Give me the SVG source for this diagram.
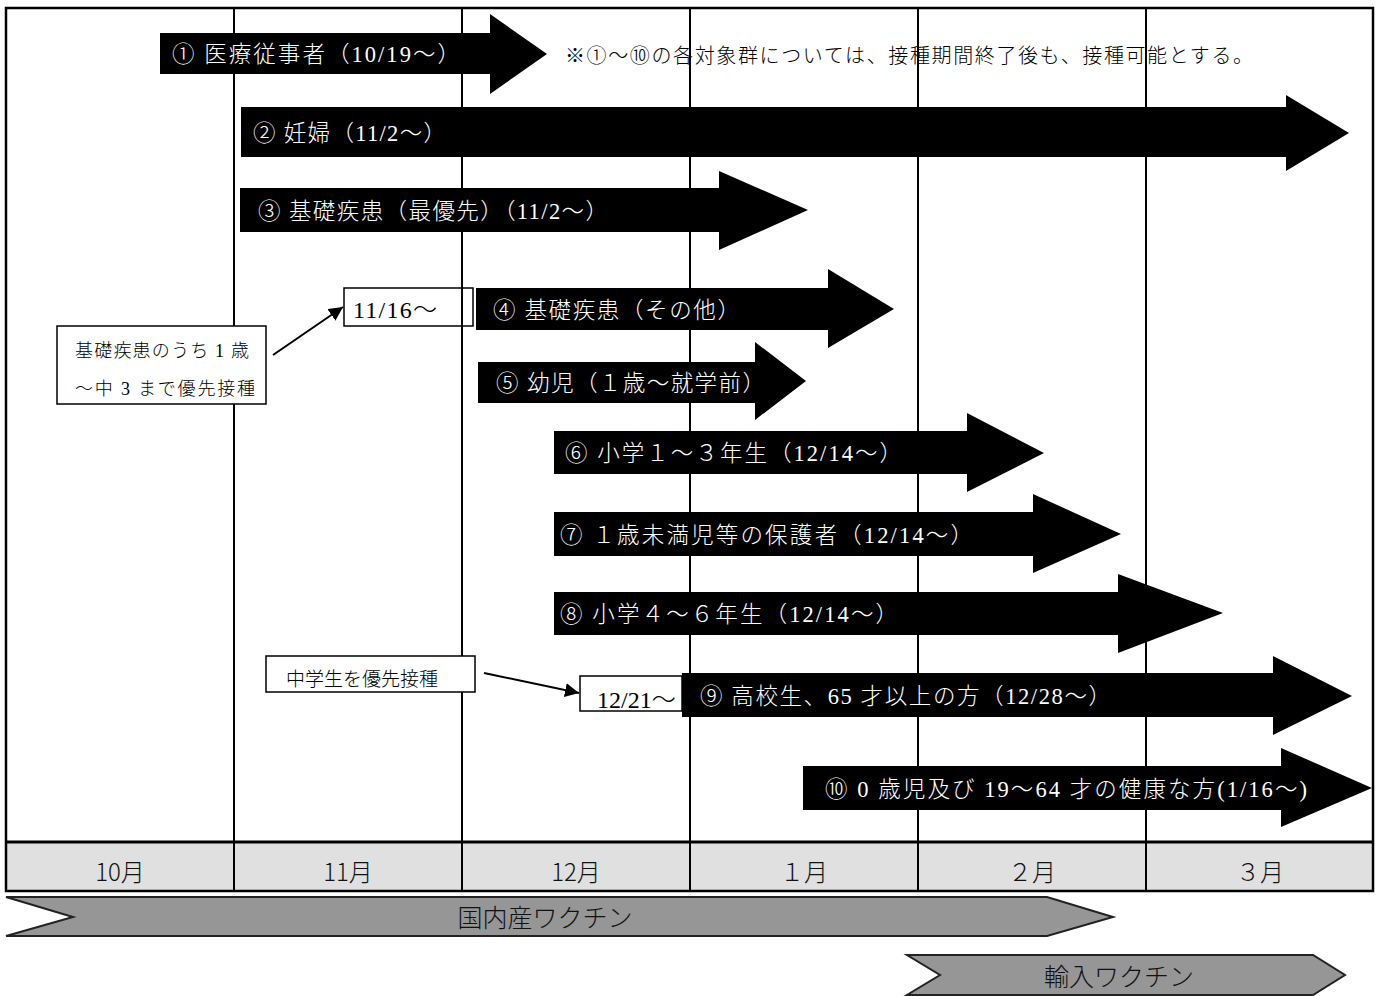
<svg xmlns="http://www.w3.org/2000/svg" width="1380" height="996" viewBox="0 0 1380 996">
<defs>
<style>
.arrow{fill:#000;}
.at{fill:#fff;font-family:"Liberation Serif","Noto Sans CJK JP",sans-serif;font-size:22.5px;font-weight:300;}
.note{fill:#000;font-family:"Noto Sans CJK JP",sans-serif;font-size:20px;font-weight:300;}
.grid{stroke:#000;stroke-width:2;fill:none;}
.month{fill:#111;font-family:"Noto Sans CJK JP",sans-serif;font-size:24px;font-weight:300;text-anchor:middle;}
.chev{fill:#969696;stroke:#222;stroke-width:2;}
.ct{fill:#111;font-family:"Noto Sans CJK JP",sans-serif;font-size:25px;font-weight:300;text-anchor:middle;}
.box{fill:#fff;stroke:#000;stroke-width:1.5;}
.boxn{fill:none;stroke:#000;stroke-width:1.5;}
.bt{fill:#000;font-family:"Liberation Serif","Noto Sans CJK JP",serif;font-weight:300;}
.conn{stroke:#000;stroke-width:2;fill:none;}
</style>
<marker id="ah2" viewBox="0 0 10 10" refX="10" refY="5" markerWidth="14" markerHeight="14" markerUnits="userSpaceOnUse" orient="auto">
<path d="M0,0 L10,5 L0,10 z" fill="#000"/>
</marker>
</defs>
<rect x="0" y="0" width="1380" height="996" fill="#fff"/>

<g id="grid">
<rect x="6" y="842" width="1367" height="49" fill="#e0e0e0"/>
<line class="grid" x1="234" y1="8" x2="234" y2="891"/>
<line class="grid" x1="462" y1="8" x2="462" y2="891"/>
<line class="grid" x1="690" y1="8" x2="690" y2="891"/>
<line class="grid" x1="918" y1="8" x2="918" y2="891"/>
<line class="grid" x1="1146" y1="8" x2="1146" y2="891"/>
<line x1="6" y1="842" x2="1373" y2="842" stroke="#000" stroke-width="3"/>
<rect x="6" y="8" width="1367" height="883" fill="none" stroke="#000" stroke-width="2.5"/>
<text class="month" x="120" y="881">10月</text>
<text class="month" x="348" y="881">11月</text>
<text class="month" x="576" y="881">12月</text>
<text class="month" x="804" y="881">１月</text>
<text class="month" x="1032" y="881">２月</text>
<text class="month" x="1260" y="881">３月</text>
</g>

<g id="note">
<text class="note" x="565" y="63" textLength="688" lengthAdjust="spacing">※①～⑩の各対象群については、接種期間終了後も、接種可能とする。</text>
</g>

<g id="box-1216">
<rect class="box" x="580" y="676" width="102" height="35"/>
<text class="bt" x="597" y="708" font-size="24">12/21～</text>
</g>

<g id="arrow1">
<polygon class="arrow" points="160,33 490,33 490,14 547,54 490,94 490,74 160,74"/>
<text class="at" x="172" y="62" textLength="288" lengthAdjust="spacing">① 医療従事者（10/19～）</text>
</g>
<g id="arrow2">
<polygon class="arrow" points="241,107 1286,107 1286,95 1349,133 1286,171 1286,157 241,157"/>
<text class="at" x="253" y="141" textLength="193" lengthAdjust="spacing">② 妊婦（11/2～）</text>
</g>
<g id="arrow3">
<polygon class="arrow" points="240,188 719,188 719,171 808,210 719,250 719,232 240,232"/>
<text class="at" x="258" y="219" textLength="350" lengthAdjust="spacing">③ 基礎疾患（最優先）（11/2～）</text>
</g>
<g id="arrow4">
<polygon class="arrow" points="476,288 828,288 828,269 894,309 828,348 828,330 476,330"/>
<text class="at" x="493" y="318" textLength="247" lengthAdjust="spacing">④ 基礎疾患（その他）</text>
</g>
<g id="arrow5">
<polygon class="arrow" points="478,362 755,362 755,342 806,381 755,420 755,403 478,403"/>
<text class="at" x="496" y="391" textLength="269" lengthAdjust="spacing">⑤ 幼児（１歳～就学前）</text>
</g>
<g id="arrow6">
<polygon class="arrow" points="554,431 967,431 967,413 1044,453 967,492 967,474 554,474"/>
<text class="at" x="565" y="461" textLength="337" lengthAdjust="spacing">⑥ 小学１～３年生（12/14～）</text>
</g>
<g id="arrow7">
<polygon class="arrow" points="554,512 1033,512 1033,494 1121,534 1033,573 1033,556 554,556"/>
<text class="at" x="560" y="543" textLength="413" lengthAdjust="spacing">⑦ １歳未満児等の保護者（12/14～）</text>
</g>
<g id="arrow8">
<polygon class="arrow" points="554,592 1118,592 1118,574 1223,613 1118,653 1118,635 554,635"/>
<text class="at" x="560" y="622" textLength="338" lengthAdjust="spacing">⑧ 小学４～６年生（12/14～）</text>
</g>
<g id="arrow9">
<polygon class="arrow" points="682,673 1273,673 1273,656 1352,696 1273,735 1273,717 682,717"/>
<text class="at" x="700" y="704" textLength="411" lengthAdjust="spacing">⑨ 高校生、65 才以上の方（12/28～）</text>
</g>
<g id="arrow10">
<polygon class="arrow" points="803,766 1281,766 1281,748 1372,788 1281,827 1281,810 803,810"/>
<text class="at" x="825" y="797" textLength="482" lengthAdjust="spacing">⑩ 0 歳児及び 19～64 才の健康な方(1/16～)</text>
</g>

<g id="box-kiso">
<rect class="box" x="57" y="326" width="209" height="78"/>
<text class="bt" x="75" y="357" font-size="18" textLength="174" lengthAdjust="spacing">基礎疾患のうち 1 歳</text>
<text class="bt" x="75" y="395" font-size="18" textLength="180" lengthAdjust="spacing">～中 3 まで優先接種</text>
</g>

<g id="box-1116">
<rect class="boxn" x="344" y="288" width="129" height="38"/>
<text class="bt" x="353" y="318" font-size="24" textLength="84" lengthAdjust="spacing">11/16～</text>
</g>

<g id="box-chugaku">
<rect class="box" x="266" y="656" width="209" height="36"/>
<text class="bt" x="286" y="686" font-size="19" textLength="152" lengthAdjust="spacing">中学生を優先接種</text>
</g>

<g id="connectors">
<line class="conn" x1="273" y1="355" x2="343" y2="307" marker-end="url(#ah2)"/>
<line class="conn" x1="484" y1="673" x2="579" y2="693" marker-end="url(#ah2)"/>
</g>

<g id="vaccine-domestic">
<polygon class="chev" points="6,897 1047,897 1113,917 1047,936 6,936 73,917"/>
<text class="ct" x="545" y="927">国内産ワクチン</text>
</g>
<g id="vaccine-import">
<polygon class="chev" points="907,955 1313,955 1345,975 1313,995 907,995 940,975"/>
<text class="ct" x="1119" y="986">輸入ワクチン</text>
</g>
</svg>
